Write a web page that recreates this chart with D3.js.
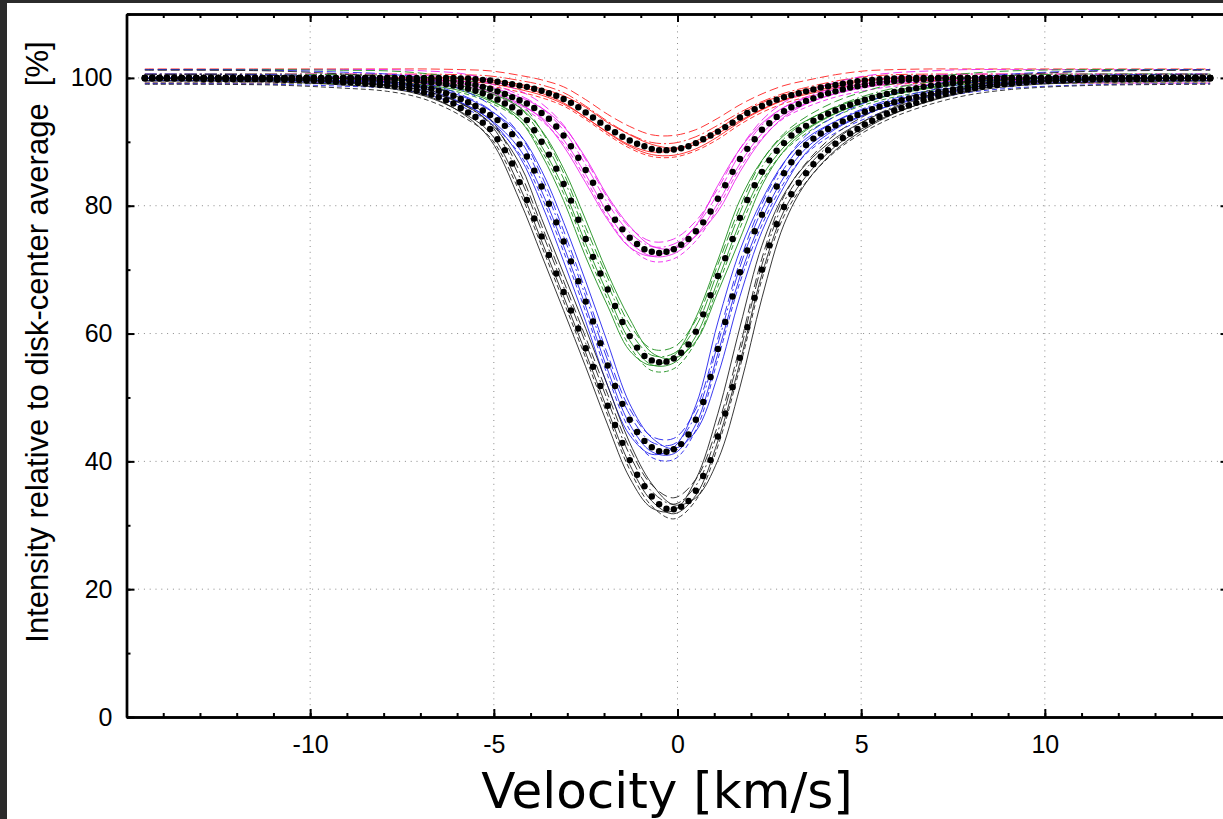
<!DOCTYPE html>
<meta charset="utf-8">
<style>
body { margin: 0; background: #2b2b2b; overflow: hidden; }
svg { display: block; }
.axis path { stroke: #000; stroke-width: 2.4px; }
.axis line { stroke: #000; stroke-width: 2px; }
.axis text { font-family: "Liberation Sans", Arial, sans-serif; font-size: 25px; fill: #000; }
.grid line { stroke: #8a8a8a; stroke-width: 1px; stroke-dasharray: 1,4.8; }
.thin { fill: none; stroke-width: 0.9px; }
</style>
<svg width="1223" height="819"></svg>
<script src="https://cdn.jsdelivr.net/npm/d3@7"></script>
<script>

// sampling grid of the averaged profiles (km/s)
var velocity = d3.range(146).map(function(i) { return Math.round((-14.5 + 0.2 * i) * 10) / 10; });

// averaged profiles (big black dots), % of disk-centre intensity
var meanRed = [
  100,100,100,100,100,100,100,100,100,100,
  100,100,100,100,100,100,100,100,100,100,
  100,100,100,100,100,100,100,100,100,100,
  100,100,100,100,100,100,100,100,100,100,
  100,100,100,99.9,99.9,99.8,99.7,99.6,99.4,99.2,
  99.0,98.8,98.6,98.3,98.0,97.6,97.2,96.7,96.1,95.4,
  94.6,93.8,93.0,92.2,91.5,90.8,90.2,89.7,89.3,88.9,
  88.7,88.7,88.8,89.0,89.3,89.8,90.4,91.0,91.6,92.3,
  93.0,93.8,94.5,95.1,95.6,96.1,96.6,97.0,97.3,97.6,
  97.9,98.2,98.5,98.7,98.9,99.1,99.3,99.5,99.6,99.7,
  99.8,99.9,99.9,100,100,100,100,100,100,100,
  100,100,100,100,100,100,100,100,100,100,
  100,100,100,100,100,100,100,100,100,100,
  100,100,100,100,100,100,100,100,100,100,
  100,100,100,100,100,100
];
var meanMagenta = [
  100,100,100,100,100,100,100,100,100,100,
  100,100,100,100,100,100,100,100,100,100,
  100,100,100,100,100,100,100,100,100,100,
  100,100,100,100,99.9,99.9,99.9,99.8,99.8,99.7,
  99.7,99.6,99.5,99.3,99.1,98.9,98.6,98.3,97.9,97.5,
  97.0,96.5,96.0,95.3,94.5,93.6,92.4,91.0,89.3,87.5,
  85.6,83.6,81.5,79.6,77.8,76.3,75.0,74.0,73.2,72.8,
  72.6,72.8,73.2,73.9,74.8,76.0,77.4,79.1,81.1,83.2,
  85.3,87.3,88.9,90.4,91.9,92.9,93.9,94.8,95.4,95.9,
  96.4,96.8,97.3,97.6,97.9,98.2,98.5,98.7,98.9,99.1,
  99.3,99.4,99.5,99.6,99.7,99.7,99.8,99.8,99.9,99.9,
  99.9,100,100,100,100,100,100,100,100,100,
  100,100,100,100,100,100,100,100,100,100,
  100,100,100,100,100,100,100,100,100,100,
  100,100,100,100,100,100
];
var meanGreen = [
  100,100,100,100,100,100,100,100,100,100,
  100,100,100,100,100,100,100,100,99.9,99.9,
  99.9,99.9,99.9,99.9,99.9,99.9,99.9,99.9,99.9,99.9,
  99.8,99.8,99.8,99.8,99.7,99.7,99.6,99.5,99.4,99.3,
  99.2,99.0,98.8,98.6,98.3,98.0,97.6,97.1,96.6,96.0,
  95.4,94.6,93.4,91.8,90.0,88.0,85.8,83.4,80.8,77.8,
  74.8,72.0,69.4,66.9,64.3,61.8,59.6,57.8,56.5,55.8,
  55.5,55.6,56.1,57.0,58.3,60.3,63.0,66.0,69.0,71.8,
  74.8,78.1,80.9,83.2,85.3,87.1,88.6,89.8,91.0,91.8,
  92.5,93.3,93.9,94.4,94.9,95.4,95.8,96.2,96.6,96.9,
  97.2,97.5,97.8,98.0,98.2,98.4,98.6,98.8,98.9,99.1,
  99.2,99.3,99.4,99.5,99.6,99.6,99.7,99.7,99.8,99.8,
  99.8,99.9,99.9,99.9,99.9,100,100,100,100,100,
  100,100,100,100,100,100,100,100,100,100,
  100,100,100,100,100,100
];
var meanBlue = [
  100,100,100,100,100,100,100,100,100,100,
  100,100,100,100,99.9,99.9,99.9,99.9,99.9,99.9,
  99.9,99.9,99.8,99.8,99.7,99.7,99.6,99.6,99.5,99.5,
  99.5,99.4,99.4,99.3,99.2,99.1,98.9,98.7,98.5,98.3,
  98.0,97.6,97.2,96.7,96.2,95.6,94.9,94.2,93.4,92.5,
  91.2,89.6,87.7,85.5,83.0,80.3,77.4,74.4,71.3,68.2,
  65.0,61.9,58.5,55.0,51.8,49.0,46.5,44.6,43.2,42.2,
  41.6,41.5,41.9,42.7,44.2,46.5,49.3,53.2,57.6,61.8,
  65.8,69.6,73.0,76.0,78.6,80.9,83.0,85.1,86.8,88.3,
  89.5,90.5,91.3,92.0,92.6,93.2,93.7,94.2,94.7,95.1,
  95.5,95.9,96.2,96.5,96.8,97.0,97.3,97.5,97.8,98.0,
  98.2,98.4,98.6,98.8,98.9,99.0,99.1,99.2,99.3,99.4,
  99.5,99.5,99.6,99.6,99.7,99.7,99.8,99.8,99.8,99.9,
  99.9,99.9,99.9,99.9,99.9,99.9,99.9,99.9,100,100,
  100,100,100,100,100,100
];
var meanBlack = [
  99.9,99.9,99.9,99.9,99.9,99.9,99.9,99.9,99.8,99.8,
  99.8,99.8,99.8,99.8,99.8,99.8,99.8,99.8,99.7,99.7,
  99.7,99.7,99.6,99.6,99.5,99.5,99.4,99.3,99.3,99.2,
  99.1,99.0,98.9,98.8,98.7,98.5,98.3,98.0,97.7,97.4,
  97.0,96.5,96.0,95.3,94.6,93.9,93.0,92.0,90.4,88.7,
  86.6,83.7,80.9,78.0,75.2,72.3,69.4,66.5,63.6,60.8,
  57.7,54.8,51.8,48.7,45.7,42.9,40.2,37.9,36.1,34.5,
  33.3,32.6,32.5,32.9,33.8,35.4,37.7,40.2,43.9,47.5,
  51.6,56.2,61.0,65.6,70.0,73.8,77.1,79.8,81.8,83.6,
  85.1,86.5,87.7,88.7,89.7,90.6,91.3,92.0,92.7,93.3,
  93.9,94.4,94.9,95.3,95.7,96.1,96.5,96.8,97.2,97.5,
  97.8,98.0,98.2,98.4,98.6,98.8,98.9,99.0,99.1,99.2,
  99.3,99.4,99.5,99.5,99.6,99.6,99.7,99.7,99.7,99.8,
  99.8,99.8,99.8,99.8,99.8,99.8,99.8,99.8,99.9,99.9,
  99.9,99.9,99.9,99.9,99.9,99.9
];

// individual spectra (thin lines), sampled at these velocities
var thinVelocity = [-14.5, -11.1, -9.1, -7.9, -6.9, -5.9, -5.1, -4.3, -3.7, -3.1, -2.5, -1.9, -1.3, -0.7, -0.1,
                    0.5, 1.1, 1.7, 2.3, 2.9, 3.5, 4.3, 5.1, 5.9, 6.9, 7.9, 9.1, 11.1, 14.5];

var thinRed = [
  [100,100,100,100,100,99.9,99.4,98.6,97.6,96.1,93.8,91.5,89.5,88.4,88.7,90.1,92.0,94.2,96.1,97.3,98.2,99.1,99.7,100,100,100,100,100,100],
  [100,100,100,100,100,100,99.7,99.0,98.3,97.2,95.4,93.0,91.1,89.6,89.0,89.6,91.3,93.3,95.1,96.6,97.6,98.7,99.5,99.9,100,100,100,100,100],
  [101.4,101.4,101.4,101.4,101.4,101.3,101.1,100.4,99.7,98.6,96.6,94.3,92.4,91.1,91.0,91.9,93.7,95.8,97.5,98.8,99.6,100.5,101.1,101.3,101.4,101.4,101.4,101.4,101.4],
  [99.2,99.2,99.2,99.2,99.2,99.1,98.7,97.8,96.9,95.6,93.5,91.1,89.0,87.7,87.6,88.6,90.4,92.7,94.6,96.0,97.0,98.0,98.7,99.0,99.2,99.2,99.2,99.2,99.2],
  [99.6,99.6,99.6,99.6,99.6,99.5,99.1,98.2,97.3,95.9,93.8,91.4,89.3,88.0,87.9,88.9,90.8,93.1,95.0,96.5,97.4,98.4,99.1,99.5,99.6,99.6,99.6,99.6,99.6],
  [100.6,100.6,100.6,100.6,100.6,100.5,100.3,99.6,98.9,97.7,95.6,93.2,91.2,89.9,89.8,90.8,92.6,94.6,96.3,97.6,98.5,99.5,100.2,100.5,100.6,100.6,100.6,100.6,100.6]
];
var thinMagenta = [
  [100,100,100,99.9,99.7,99.1,97.9,96.0,93.6,89.3,83.6,77.8,73.5,72.1,73.4,76.9,83.2,88.9,92.9,95.4,96.8,98.2,99.1,99.6,99.9,100,100,100,100],
  [100,100,100,100,99.8,99.5,98.6,97.0,95.3,92.4,87.5,81.5,76.8,73.7,73.3,75.3,79.1,85.3,90.4,93.9,95.9,97.6,98.7,99.4,99.8,100,100,100,100],
  [101.3,101.3,101.3,101.3,101.1,100.7,99.7,98.0,96.0,92.6,87.2,81.2,76.6,74.4,74.8,77.6,82.7,88.9,93.4,96.2,97.8,99.3,100.3,100.8,101.1,101.3,101.3,101.3,101.3],
  [99.2,99.2,99.2,99.2,99.0,98.5,97.4,95.5,93.3,89.7,84.2,78.1,73.5,71.3,71.7,74.5,79.7,85.9,90.6,93.7,95.4,97.0,98.0,98.7,99.0,99.2,99.2,99.2,99.2],
  [99.6,99.6,99.6,99.6,99.4,98.8,97.7,95.8,93.8,90.3,84.9,78.9,74.3,72.1,72.5,75.3,80.4,86.6,91.3,94.3,96.0,97.5,98.5,99.1,99.4,99.6,99.6,99.6,99.6],
  [100.6,100.6,100.6,100.6,100.4,100.0,99.1,97.3,95.3,91.8,86.4,80.4,75.8,73.6,74.0,76.8,81.9,88.1,92.6,95.4,97.0,98.5,99.5,100.1,100.4,100.6,100.6,100.6,100.6]
];
var thinGreen = [
  [100,99.9,99.9,99.7,99.3,98.3,96.6,93.4,88.0,80.8,72.0,64.3,57.3,55.0,56.5,62.5,71.5,80.9,87.1,91.0,93.3,95.4,96.9,98.0,98.9,99.5,99.8,100,100],
  [100,100,99.9,99.8,99.5,98.8,97.6,95.4,91.8,85.8,77.8,69.4,62.3,57.0,56.1,58.8,66.5,74.8,83.2,88.6,91.8,94.4,96.2,97.5,98.6,99.3,99.7,100,100],
  [101.3,101.3,101.2,101.1,100.7,99.9,98.5,96.2,91.7,85.1,76.6,68.7,61.4,57.6,57.9,62.1,70.8,79.8,87.0,91.3,93.9,96.3,97.9,99.1,100.1,100.7,101.1,101.3,101.3],
  [99.2,99.2,99.1,99.0,98.6,97.7,96.1,93.4,88.6,81.9,73.2,65.3,58.0,54.2,54.5,58.7,67.4,76.5,83.8,88.5,91.3,94.0,95.8,97.0,98.0,98.6,99.0,99.2,99.2],
  [99.6,99.6,99.5,99.4,98.9,98.0,96.4,93.9,89.3,82.7,74.1,66.2,58.9,55.1,55.4,59.6,68.3,77.4,84.6,89.2,92.0,94.5,96.2,97.4,98.4,99.0,99.4,99.6,99.6],
  [100.6,100.6,100.5,100.4,100.1,99.3,97.9,95.4,90.8,84.2,75.6,67.7,60.4,56.6,56.9,61.1,69.8,78.9,86.1,90.5,93.2,95.5,97.2,98.4,99.4,100.0,100.4,100.6,100.6]
];
var thinBlue = [
  [100,99.9,99.5,99.2,98.3,96.2,93.4,87.7,80.3,71.3,61.9,51.8,44.1,41.1,42.2,48.8,61.8,73.0,80.9,86.8,90.5,93.2,95.1,96.5,97.8,98.8,99.4,99.9,100],
  [100,99.9,99.6,99.4,98.7,97.2,94.9,91.2,85.5,77.4,68.2,58.5,49.0,43.7,42.0,44.7,53.5,65.8,76.0,83.0,88.3,92.0,94.2,95.9,97.3,98.4,99.2,99.8,100],
  [101.3,101.2,100.9,100.6,99.9,98.2,95.8,91.2,84.7,76.1,66.7,56.7,48.2,43.9,43.6,48.2,59.3,71.3,80.3,86.7,91.0,94.0,96.1,97.6,98.9,99.9,100.6,101.1,101.3],
  [99.1,99.0,98.7,98.4,97.5,95.6,92.9,88.1,81.4,72.8,63.4,53.4,44.9,40.6,40.3,44.9,56.0,68.0,77.0,83.6,88.1,91.4,93.6,95.2,96.6,97.7,98.4,98.9,99.1],
  [99.6,99.5,99.2,98.9,98.0,96.1,93.5,88.9,82.3,73.7,64.3,54.3,45.8,41.5,41.2,45.8,56.9,68.9,77.9,84.5,89.0,92.2,94.3,95.8,97.1,98.2,98.9,99.4,99.6],
  [100.6,100.5,100.2,99.9,99.2,97.4,95.0,90.4,83.8,75.2,65.8,55.8,47.3,43.0,42.7,47.3,58.4,70.4,79.4,85.8,90.1,93.2,95.3,96.8,98.1,99.2,99.9,100.4,100.6]
];
var thinBlack = [
  [99.9,99.7,99.3,98.7,97.4,94.6,90.4,80.9,72.3,63.6,54.8,45.7,37.4,32.7,32.3,37.2,47.5,61.0,73.8,81.8,86.5,90.6,93.3,95.3,97.2,98.4,99.2,99.8,99.9],
  [99.9,99.8,99.4,98.9,98.0,96.0,93.0,86.6,78.0,69.4,60.8,51.8,42.9,36.5,33.2,34.3,40.2,51.6,65.6,77.1,83.6,88.7,92.0,94.4,96.5,98.0,99.0,99.7,99.9],
  [101.2,101.1,100.6,100.1,99.1,96.8,93.6,85.4,76.9,68.2,59.4,50.5,42.0,36.3,34.3,37.2,45.7,58.0,71.8,81.5,86.7,91.2,94.1,96.2,98.1,99.5,100.4,101.0,101.2],
  [99.0,98.9,98.4,97.9,96.7,94.1,90.7,82.2,73.7,65.0,56.2,47.2,38.7,33.0,31.0,33.9,42.4,54.7,68.5,78.4,83.7,88.5,91.6,93.9,95.9,97.3,98.2,98.8,99.0],
  [99.5,99.4,98.9,98.4,97.2,94.7,91.4,83.0,74.5,65.8,57.0,48.0,39.5,33.8,31.8,34.7,43.2,55.5,69.3,79.2,84.6,89.3,92.3,94.5,96.4,97.8,98.7,99.3,99.5],
  [100.5,100.4,99.9,99.4,98.4,96.0,92.8,84.5,76.0,67.3,58.5,49.5,41.0,35.3,33.3,36.2,44.7,57.0,70.8,80.6,85.8,90.3,93.3,95.5,97.4,98.8,99.7,100.3,100.5]
];

var xTicks = [-10, -5, 0, 5, 10];
var yTicks = [0, 20, 40, 60, 80, 100];
var xMinor = d3.range(-15, 16, 1);
var yMinor = d3.range(0, 111, 10);

var groups = [
  {color: "#ff1f1f", mean: meanRed, thin: thinRed},
  {color: "#ee22ee", mean: meanMagenta, thin: thinMagenta},
  {color: "#1e901e", mean: meanGreen, thin: thinGreen},
  {color: "#2424ee", mean: meanBlue, thin: thinBlue},
  {color: "#222222", mean: meanBlack, thin: thinBlack}
];
var dashes = [null, null, "9,4", "5,3", null, "12,3,2,3"];

var svg = d3.select("svg");

svg.append("rect")
    .attr("x", 7).attr("y", 3)
    .attr("width", 1216).attr("height", 816)
    .attr("fill", "#fff");

var x = d3.scaleLinear().domain([-15, 15]).range([126.5, 1228.5]),
    y = d3.scaleLinear().domain([0, 110]).range([717, 14]);

// dotted grid
var grid = svg.append("g").attr("class", "grid");
grid.selectAll(".gx").data(xTicks).enter().append("line")
    .attr("x1", function(d) { return x(d); })
    .attr("x2", function(d) { return x(d); })
    .attr("y1", y(110)).attr("y2", y(0));
grid.selectAll(".gy").data(yTicks.slice(1)).enter().append("line")
    .attr("x1", x(-15)).attr("x2", x(15))
    .attr("y1", function(d) { return y(d); })
    .attr("y2", function(d) { return y(d); });

// thin lines
var thinLine = d3.line()
    .x(function(d, i) { return x(thinVelocity[i]); })
    .y(function(d) { return y(d); })
    .curve(d3.curveCatmullRom.alpha(0.5));

groups.forEach(function(g) {
  svg.append("g").selectAll("path")
    .data(g.thin)
    .enter().append("path")
      .attr("class", "thin")
      .attr("stroke", g.color)
      .attr("stroke-dasharray", function(d, i) { return dashes[i]; })
      .attr("d", thinLine);
});

// averaged profiles as dots
groups.forEach(function(g) {
  svg.append("g").selectAll("circle")
    .data(g.mean)
    .enter().append("circle")
      .attr("cx", function(d, i) { return x(velocity[i]); })
      .attr("cy", function(d) { return y(d); })
      .attr("r", 3.2)
      .attr("fill", "#000");
});

// axes, ticks pointing inward
var fmt = function(d) { return String(d); };

svg.append("g").attr("class", "axis")
    .attr("transform", "translate(0," + y(0) + ")")
    .call(d3.axisBottom(x).tickValues(xMinor).tickSize(-4).tickSizeOuter(0).tickFormat(""));
svg.append("g").attr("class", "axis")
    .attr("transform", "translate(0," + y(0) + ")")
    .call(d3.axisBottom(x).tickValues(xTicks).tickSize(-8).tickSizeOuter(0).tickPadding(18).tickFormat(fmt));

svg.append("g").attr("class", "axis")
    .attr("transform", "translate(0," + y(110) + ")")
    .call(d3.axisTop(x).tickValues(xMinor).tickSize(-4).tickSizeOuter(0).tickFormat(""));
svg.append("g").attr("class", "axis")
    .attr("transform", "translate(0," + y(110) + ")")
    .call(d3.axisTop(x).tickValues(xTicks).tickSize(-8).tickSizeOuter(0).tickFormat(""));

svg.append("g").attr("class", "axis")
    .attr("transform", "translate(" + x(-15) + ",0)")
    .call(d3.axisLeft(y).tickValues(yMinor).tickSize(-4).tickSizeOuter(0).tickFormat(""));
svg.append("g").attr("class", "axis")
    .attr("transform", "translate(" + x(-15) + ",0)")
    .call(d3.axisLeft(y).tickValues(yTicks).tickSize(-8).tickSizeOuter(0).tickPadding(14).tickFormat(fmt));

svg.append("g").attr("class", "axis")
    .attr("transform", "translate(" + x(15) + ",0)")
    .call(d3.axisRight(y).tickValues(yMinor).tickSize(-4).tickSizeOuter(0).tickFormat(""));
svg.append("g").attr("class", "axis")
    .attr("transform", "translate(" + x(15) + ",0)")
    .call(d3.axisRight(y).tickValues(yTicks).tickSize(-8).tickSizeOuter(0).tickFormat(""));

// titles
svg.append("text")
    .attr("x", 667).attr("y", 808)
    .attr("text-anchor", "middle")
    .style("font-family", "'DejaVu Sans', Verdana, sans-serif")
    .style("font-size", "50px")
    .text("Velocity [km/s]");

svg.append("text")
    .attr("transform", "translate(48,342) rotate(-90)")
    .attr("text-anchor", "middle")
    .style("font-family", "'Liberation Sans', Arial, sans-serif")
    .style("font-size", "31px")
    .style("white-space", "pre")
    .text("Intensity relative to disk-center average  [%]");

</script>
